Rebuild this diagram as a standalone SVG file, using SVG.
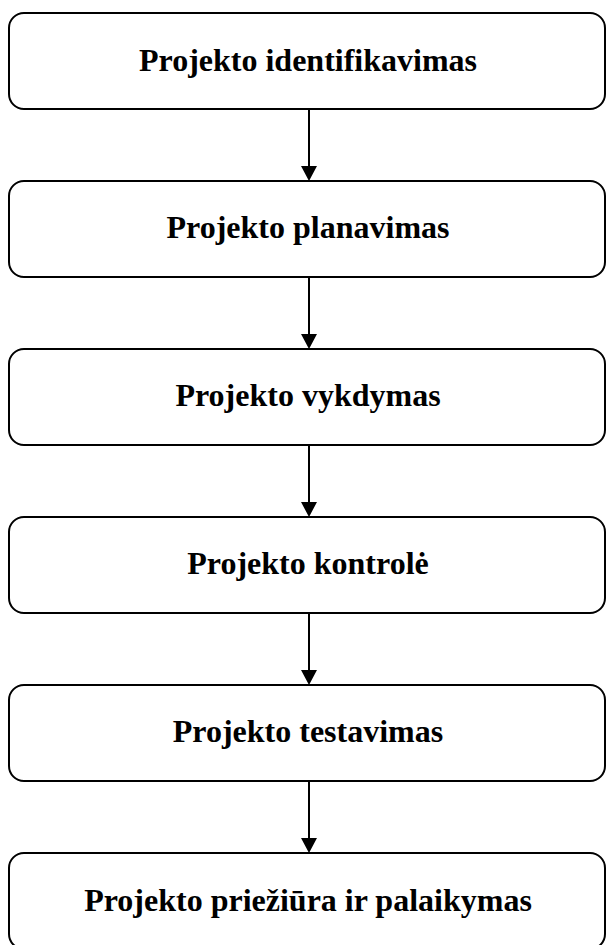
<svg xmlns="http://www.w3.org/2000/svg" width="606" height="945" viewBox="0 0 606 945">
<style>
.box{fill:#fff;stroke:#000;stroke-width:2}
.lbl{font-family:"Liberation Serif","Times New Roman",serif;font-weight:bold;font-size:32px;text-anchor:middle;fill:#000}
.con{stroke:#000;stroke-width:2;fill:none}
.head{fill:#000}
</style>
<rect width="606" height="945" fill="#fff"/>
<g id="connectors">
<line class="con" x1="309" y1="109" x2="309" y2="167"/><polygon class="head" points="301,166 317,166 309,181"/>
<line class="con" x1="309" y1="277" x2="309" y2="335"/><polygon class="head" points="301,334 317,334 309,349"/>
<line class="con" x1="309" y1="445" x2="309" y2="503"/><polygon class="head" points="301,502 317,502 309,517"/>
<line class="con" x1="309" y1="613" x2="309" y2="671"/><polygon class="head" points="301,670 317,670 309,685"/>
<line class="con" x1="309" y1="781" x2="309" y2="839"/><polygon class="head" points="301,838 317,838 309,853"/>
</g>
<g id="n1"><rect class="box" x="9" y="13" width="596" height="96" rx="15"/><text class="lbl" x="308" y="71">Projekto identifikavimas</text></g>
<g id="n2"><rect class="box" x="9" y="181" width="596" height="96" rx="15"/><text class="lbl" x="308" y="238">Projekto planavimas</text></g>
<g id="n3"><rect class="box" x="9" y="349" width="596" height="96" rx="15"/><text class="lbl" x="308" y="406">Projekto vykdymas</text></g>
<g id="n4"><rect class="box" x="9" y="517" width="596" height="96" rx="15"/><text class="lbl" x="308" y="574">Projekto kontrolė</text></g>
<g id="n5"><rect class="box" x="9" y="685" width="596" height="96" rx="15"/><text class="lbl" x="308" y="742">Projekto testavimas</text></g>
<g id="n6"><rect class="box" x="9" y="853" width="596" height="96" rx="15"/><text class="lbl" x="308" y="911">Projekto priežiūra ir palaikymas</text></g>
</svg>
